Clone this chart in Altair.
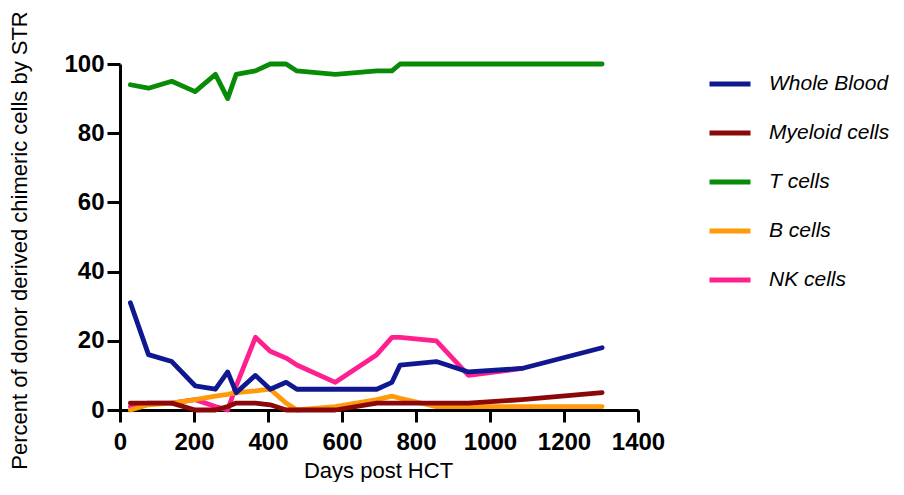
import altair as alt
import pandas as pd

days = [28, 77, 140, 203, 258, 291, 314, 366, 406, 449, 478, 582, 694, 735, 757, 855, 942, 1086, 1303]
whole_blood = [31, 16, 14, 7, 6, 11, 5, 10, 6, 8, 6, 6, 6, 8, 13, 14, 11, 12, 18]
myeloid = [2, 2, 2, 0, 0, 1, 2, 2, 1.5, 0, 0, 0, 2, 2, 2, 2, 2, 3, 5]
t_cells = [94, 93, 95, 92, 97, 90, 97, 98, 100, 100, 98, 97, 98, 98, 100, 100, 100, 100, 100]
b_cells = [0, 1.5, 2, 3, 4, 4.5, 5, 5.5, 6, 2, 0, 1, 3, 4, 3.4, 1, 1, 1, 1]
nk_cells = [1, 2, 2, 3, 1, 0, 7, 21, 17, 15, 13, 8, 16, 21, 21, 20, 10, 12, None]

series_names = ["Whole Blood", "Myeloid cells", "T cells", "B cells", "NK cells"]
series_values = [whole_blood, myeloid, t_cells, b_cells, nk_cells]
series_colors = ["#101890", "#8b0808", "#088c08", "#ff9a0a", "#ff2090"]
x_ticks = [0, 200, 400, 600, 800, 1000, 1200, 1400]
y_ticks = [0, 20, 40, 60, 80, 100]

rows = []
for name, vals in zip(series_names, series_values):
    for d, v in zip(days, vals):
        if v is not None:
            rows.append({"day": d, "value": v, "series": name})
df = pd.DataFrame(rows)

FONT = "Liberation Sans"

color = alt.Color(
    "series:N",
    scale=alt.Scale(domain=series_names, range=series_colors),
    sort=series_names,
    legend=alt.Legend(
        title=None,
        orient="none",
        legendX=587,
        legendY=-3,
        symbolType="stroke",
        symbolSize=1681,
        symbolStrokeWidth=5,
        labelFont=FONT,
        labelFontSize=21,
        labelFontStyle="italic",
        labelColor="black",
        labelOffset=16,
        labelLimit=300,
        rowPadding=16,
        padding=0,
    ),
)

x = alt.X(
    "day:Q",
    scale=alt.Scale(domain=[0, 1400], nice=False),
    axis=alt.Axis(
        values=x_ticks,
        format="d",
        title="Days post HCT",
        titleFont=FONT,
        titleFontSize=22,
        titleFontWeight="normal",
        titleColor="black",
        titleX=258,
        titleY=60,
        titleBaseline="middle",
        labelFont=FONT,
        labelFontSize=24,
        labelFontWeight="bold",
        labelColor="black",
        labelPadding=8,
        tickSize=12,
        tickWidth=3,
        tickColor="black",
        domainColor="black",
        domainWidth=3,
        grid=False,
        labelFlush=False,
    ),
)

y = alt.Y(
    "value:Q",
    scale=alt.Scale(domain=[0, 100], nice=False),
    axis=alt.Axis(
        values=y_ticks,
        format="d",
        title="Percent of donor derived chimeric cells by STR",
        titleFont=FONT,
        titleFontSize=22,
        titleFontWeight="normal",
        titleColor="black",
        titleX=-94,
        titleY=176,
        titleAngle=-90,
        titleAlign="center",
        titleBaseline="alphabetic",
        labelFont=FONT,
        labelFontSize=24,
        labelFontWeight="bold",
        labelColor="black",
        labelPadding=3,
        tickSize=13,
        tickWidth=3,
        tickColor="black",
        domainColor="black",
        domainWidth=3,
        grid=False,
        labelFlush=False,
    ),
)

draw_order = ["NK cells", "B cells", "T cells", "Myeloid cells", "Whole Blood"]
layers = []
for name in draw_order:
    layers.append(
        alt.Chart(df)
        .transform_filter(alt.datum.series == name)
        .mark_line(strokeWidth=4.8, strokeJoin="round", strokeCap="round")
        .encode(x=x, y=y, color=color, order="day:Q")
    )

chart = (
    alt.layer(*layers)
    .properties(
        width=518,
        height=346,
        background="white",
        autosize=alt.AutoSizeParams(type="none"),
        padding={"left": 112, "top": 56, "right": 258, "bottom": 72},
    )
    .configure_view(stroke=None)
)

chart.save("out.html", embed_options={"renderer": "svg", "actions": False})
